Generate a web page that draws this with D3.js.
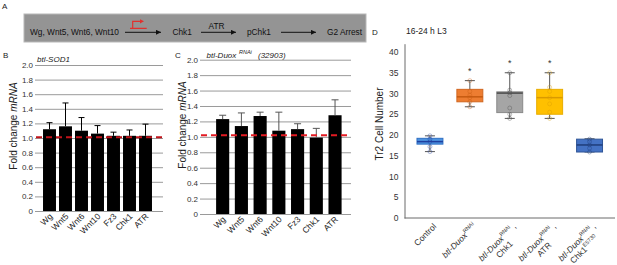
<!DOCTYPE html>
<html>
<head>
<meta charset="utf-8">
<script src="https://cdn.jsdelivr.net/npm/d3@7"></script>
<style>
  body { margin: 0; background: #fff; }
  svg { display: block; font-family: "Liberation Sans", Arial, sans-serif; }
</style>
</head>
<body>
<svg id="fig" width="617" height="265"></svg>
<script>
// panel A: pathway
const pathwayNodes = ["Wg, Wnt5, Wnt6, Wnt10", "Chk1", "pChk1", "G2 Arrest"];
const pathwayArrowLabels = ["", "ATR", ""];

// panels B and C: qPCR fold change
const genes = ["Wg", "Wnt5", "Wnt6", "Wnt10", "Fz3", "Chk1", "ATR"];
const sodFold = [1.12, 1.16, 1.10, 1.06, 1.03, 1.03, 1.03];
const sodErr = [0.09, 0.32, 0.18, 0.11, 0.05, 0.08, 0.16];
const duoxFold = [1.23, 1.14, 1.27, 1.08, 1.10, 0.99, 1.28];
const duoxErr = [0.05, 0.17, 0.05, 0.24, 0.07, 0.12, 0.20];
const foldTicks = [0, 0.2, 0.4, 0.6, 0.8, 1.0, 1.2, 1.4, 1.6, 1.8, 2.0];
const sodBaseline = 1.01;
const duoxBaseline = 1.02;

// panel D: Tr2 cell number box plots
const groups = ["Control", "Duox", "Duox-Chk1", "Duox-ATR", "Duox-Chk1mut"];
const boxMin = [16.0, 26.8, 24.0, 24.0, 15.9];
const boxQ1 = [17.8, 28.0, 25.4, 25.0, 15.9];
const boxMed = [18.4, 29.2, 30.1, 29.0, 17.6];
const boxQ3 = [19.2, 31.0, 30.4, 31.0, 19.0];
const boxMax = [19.8, 33.1, 35.0, 35.0, 19.1];
const boxPoints = [
  [16.0, 17.2, 18.4, 19.0, 19.8],
  [26.8, 28.0, 29.0, 29.6, 30.5, 33.1],
  [24.0, 25.0, 26.5, 29.5, 30.2, 30.8, 35.0],
  [24.0, 25.5, 27.5, 29.0, 30.5, 31.5, 35.0],
  [15.9, 16.8, 17.6, 18.4, 19.0]
];
const significant = [false, true, true, true, false];
const countTicks = [0, 5, 10, 15, 20, 25, 30, 35, 40];
const groupLabels = [
  [[{ t: "Control" }]],
  [[{ t: "btl-Duox", i: true }, { t: "RNAi", sup: true }]],
  [[{ t: "btl-Duox", i: true }, { t: "RNAi", sup: true }, { t: " ," }], [{ t: "Chk1" }]],
  [[{ t: "btl-Duox", i: true }, { t: "RNAi", sup: true }, { t: " ," }], [{ t: "ATR" }]],
  [[{ t: "btl-Duox", i: true }, { t: "RNAi", sup: true }, { t: " ," }], [{ t: "Chk1" }, { t: "E5730", sup: true }]]
];

const boxFill = ["#4d93e0", "#ed7d31", "#a5a5a5", "#ffc000", "#4472c4"];
const boxStroke = ["#2f6fc4", "#d0661f", "#8a8a8a", "#e8ad00", "#2f5597"];
const boxMedian = ["#1f3f9f", "#c55a11", "#4a4a4a", "#d99a00", "#1f3d7a"];

const svg = d3.select("#fig");

// ---------- panel letters
const letters = [["A", 2, 9], ["B", 3, 58], ["C", 175, 58], ["D", 372, 35]];
svg.selectAll("text.letter").data(letters).join("text")
  .attr("class", "letter")
  .attr("x", d => d[1]).attr("y", d => d[2])
  .attr("font-size", 8).attr("fill", "#222")
  .text(d => d[0]);

// ---------- panel A
svg.append("rect")
  .attr("x", 24).attr("y", 14).attr("width", 342).attr("height", 28)
  .attr("fill", "#949494").attr("stroke", "#b8b8b8");

svg.append("defs").append("marker")
  .attr("id", "ah").attr("viewBox", "0 0 10 10")
  .attr("refX", 10).attr("refY", 5)
  .attr("markerWidth", 6).attr("markerHeight", 5)
  .attr("markerUnits", "userSpaceOnUse")
  .attr("orient", "auto")
  .append("path").attr("d", "M0,0L10,5L0,10Z").attr("fill", "#111");

const nodeX = [30, 172.5, 247, 327];
svg.selectAll("text.node").data(pathwayNodes).join("text")
  .attr("class", "node")
  .attr("x", (d, i) => nodeX[i]).attr("y", 34.5)
  .attr("font-size", 8.3).attr("fill", "#111")
  .text(d => d);

const arrowX = [[125, 161], [201, 236], [281, 316]];
svg.selectAll("line.arrow").data(arrowX).join("line")
  .attr("class", "arrow")
  .attr("x1", d => d[0]).attr("x2", d => d[1])
  .attr("y1", 32.3).attr("y2", 32.3)
  .attr("stroke", "#111").attr("stroke-width", 1)
  .attr("marker-end", "url(#ah)");

svg.selectAll("text.alabel").data(pathwayArrowLabels).join("text")
  .attr("class", "alabel")
  .attr("x", (d, i) => (arrowX[i][0] + arrowX[i][1]) / 2 - 2)
  .attr("y", 28.5).attr("text-anchor", "middle")
  .attr("font-size", 8.3).attr("fill", "#111")
  .text(d => d);

// red promoter symbol
svg.append("path")
  .attr("d", "M130,28.3H146.7M132.7,28.3V21.3H140.5")
  .attr("fill", "none").attr("stroke", "#e0302e").attr("stroke-width", 1.2);
svg.append("path")
  .attr("d", "M140,19.2L144,21.3L140,23.4Z")
  .attr("fill", "#e0302e");

// ---------- bar chart helper (B, C)
function barPanel(opts) {
  const x = d3.scaleBand().domain(genes)
    .range(opts.xr).paddingInner(opts.pad).paddingOuter(opts.pad / 2);
  const y = d3.scaleLinear().domain([0, 2]).range(opts.yr);

  const g = svg.append("g");
  g.append("g")
    .attr("transform", `translate(${opts.gx0},0)`)
    .call(d3.axisLeft(y).tickValues(foldTicks)
      .tickFormat(d => d === 0 ? "0" : d3.format(".1f")(d))
      .tickSize(-(opts.gx1 - opts.gx0)).tickPadding(2))
    .call(a => a.select(".domain").remove())
    .call(a => a.selectAll(".tick line").attr("stroke", "#9a9a9a"))
    .call(a => a.selectAll(".tick text").attr("font-size", 8)
      .attr("fill", "#333").attr("font-family", "Liberation Sans, Arial, sans-serif"));

  g.selectAll("rect.bar").data(opts.values).join("rect")
    .attr("class", "bar")
    .attr("x", (d, i) => x(genes[i]))
    .attr("width", x.bandwidth())
    .attr("y", d => y(d))
    .attr("height", d => y(0) - y(d))
    .attr("fill", "#000");

  const cx = i => x(genes[i]) + x.bandwidth() / 2;
  g.selectAll("path.err").data(opts.values).join("path")
    .attr("class", "err")
    .attr("d", (d, i) => {
      const top = y(d + opts.err[i]);
      return `M${cx(i)},${y(d)}V${top}M${cx(i) - opts.cap},${top}H${cx(i) + opts.cap}`;
    })
    .attr("fill", "none").attr("stroke", opts.errColor).attr("stroke-width", 1);

  g.append("line")
    .attr("x1", opts.gx0 + 1).attr("x2", opts.gx1)
    .attr("y1", y(opts.baseline)).attr("y2", y(opts.baseline))
    .attr("stroke", opts.red).attr("stroke-width", 2)
    .attr("stroke-dasharray", "6,4");

  g.selectAll("text.xl").data(genes).join("text")
    .attr("class", "xl")
    .attr("transform", (d, i) => `translate(${cx(i) + 3.5},${y(0) + 6}) rotate(-45)`)
    .attr("text-anchor", "end")
    .attr("font-size", 8.5).attr("fill", "#222")
    .text(d => d);

  const yt = g.append("text")
    .attr("transform", `translate(${opts.titleX},${opts.titleY}) rotate(-90)`)
    .attr("text-anchor", "middle").attr("font-size", 10).attr("fill", "#222");
  yt.append("tspan").text("Fold change ");
  yt.append("tspan").attr("font-style", "italic").text("mRNA");
}

barPanel({
  values: sodFold, err: sodErr, baseline: sodBaseline,
  xr: [41.5, 153.5], pad: 0.19, yr: [211, 65],
  gx0: 35, gx1: 163, cap: 3, errColor: "#000", red: "#c0141b",
  titleX: 16.5, titleY: 126
});
barPanel({
  values: duoxFold, err: duoxErr, baseline: duoxBaseline,
  xr: [213.3, 344.4], pad: 0.3, yr: [214, 59.7],
  gx0: 200, gx1: 351, cap: 3.5, errColor: "#555", red: "#e31b23",
  titleX: 185.5, titleY: 125
});

svg.append("text").attr("x", 37).attr("y", 62)
  .attr("font-size", 8).attr("font-style", "italic").attr("fill", "#222")
  .text("btl-SOD1");
const ct = svg.append("text").attr("x", 206.5).attr("y", 57.5)
  .attr("font-size", 8).attr("font-style", "italic").attr("fill", "#222");
ct.append("tspan").text("btl-Duox");
ct.append("tspan").attr("x", 239).attr("dy", -4).attr("font-size", 5.5).text("RNAi");
ct.append("tspan").attr("x", 258).attr("dy", 4).text("(32903)");

// ---------- panel D
const xD = d3.scaleBand().domain(groups).range([410, 609.5])
  .paddingInner(0.35).paddingOuter(0.175);
const yD = d3.scaleLinear().domain([0, 42]).range([218, 43.7]);
const gD = svg.append("g");

gD.append("g")
  .attr("transform", "translate(404.5,0)")
  .call(d3.axisLeft(yD).tickValues(countTicks).tickSize(0).tickSizeOuter(0).tickPadding(6))
  .call(a => a.select(".domain").attr("stroke", "#6b6b6b"))
  .call(a => a.selectAll(".tick text").attr("font-size", 8.5)
    .attr("fill", "#333").attr("font-family", "Liberation Sans, Arial, sans-serif"));

gD.append("line")
  .attr("x1", 404.5).attr("x2", 615)
  .attr("y1", yD(0)).attr("y2", yD(0))
  .attr("stroke", "#6b6b6b");

const bx = i => xD(groups[i]);
const bc = i => xD(groups[i]) + xD.bandwidth() / 2;
const bw = xD.bandwidth();

// whiskers
gD.selectAll("path.wh").data(groups).join("path")
  .attr("class", "wh")
  .attr("d", (d, i) =>
    `M${bc(i)},${yD(boxQ3[i])}V${yD(boxMax[i])}M${bc(i) - 5},${yD(boxMax[i])}H${bc(i) + 5}` +
    `M${bc(i)},${yD(boxQ1[i])}V${yD(boxMin[i])}M${bc(i) - 5},${yD(boxMin[i])}H${bc(i) + 5}`)
  .attr("fill", "none").attr("stroke", "#555").attr("stroke-width", 1);

gD.selectAll("rect.box").data(groups).join("rect")
  .attr("class", "box")
  .attr("x", (d, i) => bx(i)).attr("width", bw)
  .attr("y", (d, i) => yD(boxQ3[i]))
  .attr("height", (d, i) => yD(boxQ1[i]) - yD(boxQ3[i]))
  .attr("fill", (d, i) => boxFill[i])
  .attr("stroke", (d, i) => boxStroke[i]).attr("stroke-width", 1);

gD.selectAll("line.med").data(groups).join("line")
  .attr("class", "med")
  .attr("x1", (d, i) => bx(i)).attr("x2", (d, i) => bx(i) + bw)
  .attr("y1", (d, i) => yD(boxMed[i])).attr("y2", (d, i) => yD(boxMed[i]))
  .attr("stroke", (d, i) => boxMedian[i]).attr("stroke-width", 1.5);

boxPoints.forEach((pts, i) => {
  gD.selectAll(null).data(pts).join("circle")
    .attr("cx", bc(i)).attr("cy", d => yD(d)).attr("r", 2)
    .attr("fill", "none")
    .attr("stroke", boxMedian[i]).attr("stroke-opacity", 0.45).attr("stroke-width", 0.8);
});

gD.selectAll("text.star").data(groups.filter((d, i) => significant[i])).join("text")
  .attr("class", "star")
  .attr("x", d => bc(groups.indexOf(d)))
  .attr("y", d => yD(boxMax[groups.indexOf(d)]) - 7)
  .attr("text-anchor", "middle").attr("font-size", 9).attr("fill", "#333")
  .text("*");

// rotated multi-line group labels
const lh = 10;
groupLabels.forEach((lines, i) => {
  const g = gD.append("g")
    .attr("transform", `translate(${bc(i) + 7},227) rotate(-45)`);
  const texts = lines.map((segs, j) => {
    const t = g.append("text").attr("y", j * lh)
      .attr("font-size", 8.5).attr("fill", "#333").attr("text-anchor", "middle");
    let raised = false;
    segs.forEach(s => {
      const ts = t.append("tspan").text(s.t);
      if (s.i) ts.attr("font-style", "italic");
      if (s.sup) { ts.attr("font-size", 5.5).attr("dy", -4); raised = true; }
      else if (raised) { ts.attr("dy", 4); raised = false; }
    });
    return t;
  });
  const W = d3.max(texts, t => t.node().getComputedTextLength());
  texts.forEach(t => t.attr("x", -W / 2));
});

gD.append("text")
  .attr("transform", "translate(383,124) rotate(-90)")
  .attr("text-anchor", "middle").attr("font-size", 10).attr("fill", "#222")
  .text("Tr2 Cell Number");

gD.append("text").attr("x", 406).attr("y", 34.3)
  .attr("font-size", 8.5).attr("fill", "#222")
  .text("16-24 h L3");
</script>
</body>
</html>
